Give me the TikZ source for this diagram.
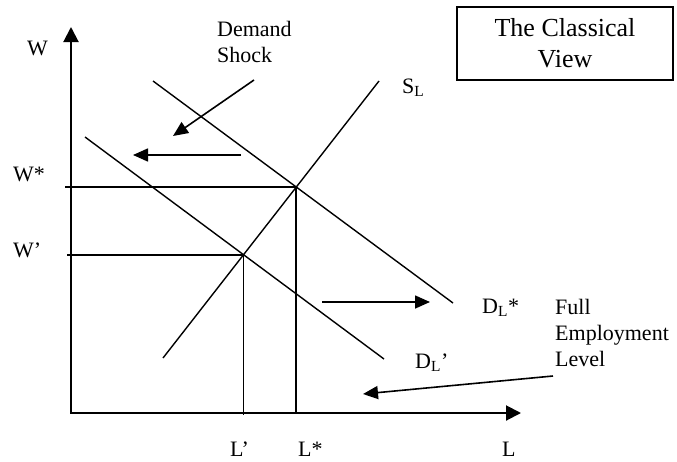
\documentclass[tikz,border=0pt]{standalone}
\usepackage{fontspec}
\setmainfont{Liberation Serif}
\usetikzlibrary{arrows.meta,intersections}

\begin{document}
\begin{tikzpicture}[x=1pt,y=-1pt,
 lbl/.style={font=\fontsize{22}{25.5}\selectfont,inner sep=0pt,align=left,anchor=base west},
 axis/.style={line width=2pt,{Triangle[length=15pt,width=15pt]}-{Triangle[length=15pt,width=15pt]}},
 curve/.style={line width=1.4pt},
 guide/.style={line width=1.8pt},
 shiftarr/.style={line width=1.6pt,-{Triangle[length=15pt,width=13pt]}}]
\useasboundingbox (0,0) rectangle (677,461);
% axes
\coordinate (Wtop) at (71,27); \coordinate (O) at (71,413); \coordinate (Lend) at (521,413);
\draw[axis] (Wtop) -- (O) -- (Lend);
% supply and the two demand curves
\draw[curve,name path=sl] (163,358) coordinate (sl0) -- (379,81) coordinate (sl1);
\draw[curve,name path=dstar] (153,81) coordinate (ds0) -- (453,303) coordinate (ds1);
\draw[curve,name path=dprime] (85,137) coordinate (dp0) -- (384,359) coordinate (dp1);
\path[name intersections={of=sl and dstar,by=Estar}];
\path[name intersections={of=sl and dprime,by=Eprime}];
% equilibrium guides
\draw[guide] ([xshift=-6pt]Estar -| O) -- (Estar) -- (Estar |- O);
\draw[guide] ([xshift=-4pt]Eprime -| O) -- (Eprime) -- ([yshift=-2pt]Eprime |- O);
% shift arrows
\coordinate (shockA) at (254,80); \coordinate (shockB) at (173,136);
\coordinate (leftA) at (241,155); \coordinate (leftB) at (133,155);
\coordinate (rightA) at (322,302); \coordinate (rightB) at (430,302);
\coordinate (fullA) at (553,376); \coordinate (fullB) at (363,394);
\draw[shiftarr] (shockA) -- (shockB);
\draw[shiftarr] (leftA) -- (leftB);
\draw[shiftarr] (rightA) -- (rightB);
\draw[shiftarr] (fullA) -- (fullB);
% labels
\node[lbl] (wlab) at (27,55) {W};
\node[lbl] (wstar) at (13,181) {W*};
\node[lbl] (wprime) at (13,257) {W'};
\node[lbl] (lprime) at (230,456) {L'};
\node[lbl] (lstar) at (298,456) {L*};
\node[lbl] (llab) at (502,456) {L};
\node[lbl] (slab) at (402,93) {S\textsubscript{L}};
\node[lbl] (dslab) at (482,313) {D\textsubscript{L}*};
\node[lbl] (dplab) at (415,368) {D\textsubscript{L}'};
\node[lbl] (shock) at (217,62) {Demand\\Shock};
\node[lbl,font=\fontsize{22}{26}\selectfont] (fel) at (555,366) {Full\\Employment\\Level};
\node[draw,line width=1.5pt,minimum width=216pt,minimum height=73pt,align=center,
 font=\fontsize{26}{31}\selectfont] (title) at (565,43.5) {The Classical\\View};
\end{tikzpicture}
\end{document}
